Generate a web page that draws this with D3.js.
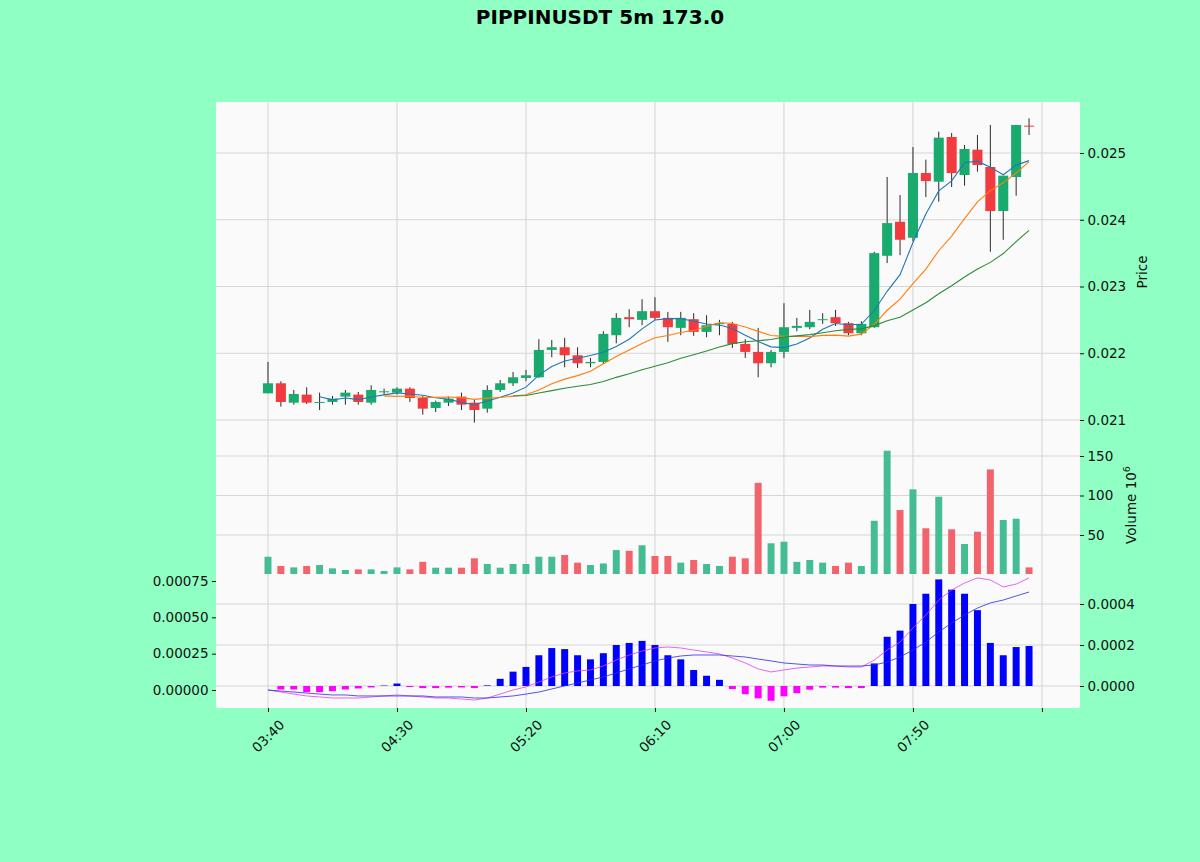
<!DOCTYPE html>
<html><head><meta charset="utf-8">
<script src="https://cdn.jsdelivr.net/npm/d3@7"></script>
<style>
body{margin:0;background:#8fffc3;}
svg{display:block;font-family:"DejaVu Sans",sans-serif;}
</style>
</head><body>
<svg id="chart" width="1200" height="862"></svg>
<script>
// ---------------- DATA ----------------
const times = ["03:40","03:45","03:50","03:55","04:00","04:05","04:10","04:15","04:20","04:25",
"04:30","04:35","04:40","04:45","04:50","04:55","05:00","05:05","05:10","05:15",
"05:20","05:25","05:30","05:35","05:40","05:45","05:50","05:55","06:00","06:05",
"06:10","06:15","06:20","06:25","06:30","06:35","06:40","06:45","06:50","06:55",
"07:00","07:05","07:10","07:15","07:20","07:25","07:30","07:35","07:40","07:45",
"07:50","07:55","08:00","08:05","08:10","08:15","08:20","08:25","08:30","08:35"];

const opens = [0.02140,0.02155,0.02126,0.02138,0.02126,0.02127,0.02135,0.02138,0.02126,0.02142,
0.02141,0.02147,0.02133,0.02118,0.02126,0.02135,0.02126,0.02117,0.02145,0.02155,
0.02163,0.02164,0.02205,0.02209,0.02197,0.02185,0.02187,0.02227,0.02254,0.02250,
0.02263,0.02253,0.02238,0.02251,0.02232,0.02244,0.02244,0.02214,0.02202,0.02185,
0.02202,0.02238,0.02239,0.02250,0.02254,0.02245,0.02230,0.02239,0.02346,0.02397,
0.02373,0.02470,0.02457,0.02524,0.02467,0.02505,0.02479,0.02413,0.02464,0.02541];
const highs = [0.02187,0.02158,0.02145,0.02149,0.02141,0.02136,0.02145,0.02142,0.02152,0.02147,
0.02149,0.02149,0.02136,0.02129,0.02135,0.02141,0.02130,0.02152,0.02160,0.02172,
0.02175,0.02221,0.02220,0.02223,0.02209,0.02193,0.02233,0.02260,0.02266,0.02281,
0.02284,0.02262,0.02262,0.02260,0.02257,0.02250,0.02247,0.02221,0.02238,0.02205,
0.02275,0.02253,0.02265,0.02260,0.02265,0.02247,0.02248,0.02352,0.02464,0.02437,
0.02509,0.02490,0.02532,0.02530,0.02512,0.02527,0.02542,0.02466,0.02542,0.02552];
const lows = [0.02140,0.02120,0.02123,0.02124,0.02115,0.02123,0.02123,0.02123,0.02123,0.02138,
0.02138,0.02127,0.02108,0.02112,0.02121,0.02115,0.02096,0.02111,0.02142,0.02151,
0.02158,0.02163,0.02194,0.02179,0.02178,0.02179,0.02184,0.02215,0.02239,0.02242,
0.02250,0.02217,0.02227,0.02226,0.02224,0.02227,0.02208,0.02193,0.02164,0.02179,
0.02193,0.02233,0.02236,0.02244,0.02241,0.02227,0.02227,0.02238,0.02335,0.02347,
0.02368,0.02434,0.02427,0.02449,0.02451,0.02472,0.02352,0.02370,0.02436,0.02527];
const closes = [0.02155,0.02127,0.02139,0.02126,0.02127,0.02132,0.02141,0.02127,0.02145,0.02143,
0.02147,0.02133,0.02117,0.02127,0.02132,0.02123,0.02115,0.02145,0.02155,0.02164,
0.02167,0.02205,0.02209,0.02197,0.02185,0.02187,0.02229,0.02253,0.02251,0.02263,
0.02253,0.02239,0.02253,0.02232,0.02242,0.02245,0.02214,0.02202,0.02185,0.02202,
0.02239,0.02241,0.02247,0.02251,0.02245,0.02230,0.02244,0.02350,0.02395,0.02370,
0.02470,0.02458,0.02523,0.02470,0.02506,0.02482,0.02413,0.02466,0.02542,0.02540];

// volume in units of 10^6
const volumes = [22.5,10.8,9,10.8,12,7.8,5.7,6.5,6.5,4.4,
9,6.5,16,8.6,8.6,8.6,20.5,13.3,8.6,13.3,
13.3,22.5,22.5,24.7,15,12,14,31,30,37,
23.4,23.4,15,18.4,13.3,10.8,22.5,20.5,116,39.5,
41.5,16,18.4,15,10.8,15,10.8,68,156.7,81.6,
107.8,58.5,98.5,57.2,38.6,54.2,133,69,70.6,9];

// MACD histogram (right axis)
const macdHist = [0,-0.000017,-0.000017,-0.000030,-0.000030,-0.000025,-0.000017,-0.000012,-0.000007,0.000002,
0.000012,-0.000005,-0.000010,-0.000010,-0.000008,-0.000007,-0.000010,0.000003,0.000035,0.000070,
0.000093,0.000150,0.000185,0.000180,0.000150,0.000130,0.000160,0.000200,0.000210,0.000220,
0.000200,0.000150,0.000130,0.000078,0.000050,0.000030,-0.000015,-0.000040,-0.000060,-0.000072,
-0.000050,-0.000035,-0.000018,-0.000008,-0.000008,-0.000010,-0.000010,0.000110,0.000240,0.000270,
0.000400,0.000450,0.000520,0.000470,0.000450,0.000370,0.000210,0.000150,0.000190,0.000195];

// MACD line and signal line (left axis)
const macdLine = [0,-0.000014,-0.000028,-0.000041,-0.000048,-0.000055,-0.000055,-0.000055,-0.000048,-0.000041,
-0.000034,-0.000041,-0.000048,-0.000055,-0.000055,-0.000062,-0.000069,-0.000055,-0.000028,0,
0.000021,0.000055,0.000090,0.000117,0.000131,0.000138,0.000165,0.000206,0.000241,0.000268,
0.000289,0.000296,0.000289,0.000275,0.000262,0.000248,0.000220,0.000186,0.000145,0.000124,
0.000138,0.000151,0.000158,0.000165,0.000165,0.000158,0.000158,0.000206,0.000275,0.000330,
0.000427,0.000516,0.000619,0.000688,0.000736,0.000771,0.000757,0.000709,0.000729,0.000771];
const signalLine = [0,-0.000007,-0.000014,-0.000021,-0.000028,-0.000034,-0.000034,-0.000041,-0.000041,-0.000041,
-0.000041,-0.000041,-0.000041,-0.000048,-0.000048,-0.000048,-0.000055,-0.000055,-0.000048,-0.000041,
-0.000028,-0.000014,0.000007,0.000028,0.000048,0.000069,0.000090,0.000117,0.000145,0.000172,
0.000200,0.000220,0.000234,0.000241,0.000241,0.000241,0.000234,0.000227,0.000213,0.000200,
0.000186,0.000179,0.000172,0.000172,0.000165,0.000165,0.000165,0.000172,0.000193,0.000227,
0.000275,0.000330,0.000399,0.000461,0.000516,0.000564,0.000599,0.000619,0.000647,0.000674];

const maWindows = [5, 10, 20];
const priceTicks = [0.021, 0.022, 0.023, 0.024, 0.025];
const volumeTicks = [50, 100, 150];
const histTicks = [0, 0.0002, 0.0004];
const macdTicks = [0, 0.00025, 0.0005, 0.00075];
const xTickIdx = [0, 10, 20, 30, 40, 50, 60];
const xTickLabels = ["03:40", "04:30", "05:20", "06:10", "07:00", "07:50", ""];
const titleText = "PIPPINUSDT 5m 173.0";

// ---------------- LAYOUT ----------------
const L = 216, R = 1080;
const P = {top: 102, bot: 439};   // price panel
const V = {top: 439, bot: 574};   // volume panel
const M = {top: 574, bot: 708};   // macd panel
const upC = "#19ab6d", dnC = "#f23a3f";
const upV = "#45bd93", dnV = "#f2636b";
const maColors = ["#1f77b4", "#ff7f0e", "#2a8d3a"];
const gridC = "#d6d6d6";
const textC = "#111";
const fs = "13.5px";

const svg = d3.select("#chart");
svg.append("rect").attr("width",1200).attr("height",862).attr("fill","#8fffc3");
svg.append("rect").attr("x",L).attr("y",P.top).attr("width",R-L).attr("height",M.bot-P.top).attr("fill","#fafafa");

const defs = svg.append("defs");
[["cp",P],["cv",V],["cm",M]].forEach(([id,p]) => {
  defs.append("clipPath").attr("id",id).append("rect")
    .attr("x",L).attr("y",p.top).attr("width",R-L).attr("height",p.bot-p.top);
});

const x = d3.scaleLinear().domain([-4.03, 62.95]).range([L, R]);
const yP = d3.scaleLinear().domain([0.021, 0.025]).range([420, 153]);
const yV = d3.scaleLinear().domain([0, 150]).range([574.5, 456]);
const yH = d3.scaleLinear().domain([0, 0.0004]).range([686, 604]);
const yM = d3.scaleLinear().domain([0, 0.00075]).range([690, 581]);

const idx = d3.range(closes.length);
const up = i => closes[i] >= opens[i];

// ---------------- GRID ----------------
const grid = svg.append("g").attr("stroke",gridC).attr("stroke-width",1.1);
xTickIdx.forEach(t => grid.append("line").attr("x1",x(t)).attr("x2",x(t)).attr("y1",P.top).attr("y2",M.bot));
priceTicks.forEach(t => grid.append("line").attr("x1",L).attr("x2",R).attr("y1",yP(t)).attr("y2",yP(t)));
volumeTicks.forEach(t => grid.append("line").attr("x1",L).attr("x2",R).attr("y1",yV(t)).attr("y2",yV(t)));
histTicks.forEach(t => grid.append("line").attr("x1",L).attr("x2",R).attr("y1",yH(t)).attr("y2",yH(t)));

// ---------------- CANDLES ----------------
const cw = x(0.39) - x(0);
const gP = svg.append("g").attr("clip-path","url(#cp)");
gP.selectAll("line.wick").data(idx).join("line")
  .attr("x1",i=>x(i)).attr("x2",i=>x(i))
  .attr("y1",i=>yP(highs[i])).attr("y2",i=>yP(lows[i]))
  .attr("stroke","#2b2b2b").attr("stroke-width",1);
gP.selectAll("rect.body").data(idx).join("rect")
  .attr("x",i=>x(i)-cw).attr("width",cw*2)
  .attr("y",i=>yP(Math.max(opens[i],closes[i])))
  .attr("height",i=>Math.max(1, Math.abs(yP(opens[i])-yP(closes[i]))))
  .attr("fill",i=>up(i)?upC:dnC);

// moving averages (computed from closes like mplfinance's mav)
maWindows.forEach((w,k) => {
  const ma = idx.map(i => i < w-1 ? null : d3.mean(closes.slice(i-w+1, i+1)));
  gP.append("path").datum(idx.filter(i => ma[i] !== null))
    .attr("d", d3.line().x(i=>x(i)).y(i=>yP(ma[i])))
    .attr("fill","none").attr("stroke",maColors[k]).attr("stroke-width",1.1);
});

// ---------------- VOLUME ----------------
const bw = x(0.27) - x(0);
const gV = svg.append("g").attr("clip-path","url(#cv)");
gV.selectAll("rect").data(idx).join("rect")
  .attr("x",i=>x(i)-bw).attr("width",bw*2)
  .attr("y",i=>yV(volumes[i])).attr("height",i=>yV(0)-yV(volumes[i]))
  .attr("fill",i=>up(i)?upV:dnV);

// ---------------- MACD ----------------
const gM = svg.append("g").attr("clip-path","url(#cm)");
gM.selectAll("rect").data(idx).join("rect")
  .attr("x",i=>x(i)-bw).attr("width",bw*2)
  .attr("y",i=>Math.min(yH(macdHist[i]),yH(0)))
  .attr("height",i=>Math.abs(yH(macdHist[i])-yH(0)))
  .attr("fill",i=>macdHist[i]>=0?"#0000ff":"#ff00ff");
gM.append("path").datum(idx)
  .attr("d", d3.line().x(i=>x(i)).y(i=>yM(macdLine[i])))
  .attr("fill","none").attr("stroke","#e040e8").attr("stroke-width",0.8);
gM.append("path").datum(idx)
  .attr("d", d3.line().x(i=>x(i)).y(i=>yM(signalLine[i])))
  .attr("fill","none").attr("stroke","#2a2ae6").attr("stroke-width",0.8);

// ---------------- AXES ----------------
function styleAxis(g){
  g.select(".domain").remove();
  g.selectAll(".tick line").attr("stroke",textC);
  g.selectAll(".tick text").attr("fill",textC).style("font-size",fs).style("font-family","DejaVu Sans");
}
svg.append("g").attr("transform",`translate(${R},0)`)
  .call(d3.axisRight(yP).tickValues(priceTicks).tickSize(4).tickPadding(3.5).tickFormat(d3.format(".3f")))
  .call(styleAxis);
svg.append("g").attr("transform",`translate(${R},0)`)
  .call(d3.axisRight(yV).tickValues(volumeTicks).tickSize(4).tickPadding(3.5).tickFormat(d3.format("d")))
  .call(styleAxis);
svg.append("g").attr("transform",`translate(${R},0)`)
  .call(d3.axisRight(yH).tickValues(histTicks).tickSize(4).tickPadding(3.5).tickFormat(d3.format(".4f")))
  .call(styleAxis);
svg.append("g").attr("transform",`translate(${L},0)`)
  .call(d3.axisLeft(yM).tickValues(macdTicks).tickSize(4).tickPadding(3.5).tickFormat(d3.format(".5f")))
  .call(styleAxis);

svg.append("g").attr("transform",`translate(0,${M.bot})`)
  .call(d3.axisBottom(x).tickValues(xTickIdx).tickSize(4).tickFormat(""))
  .call(styleAxis);
xTickIdx.forEach((t,k) => {
  if (!xTickLabels[k]) return;
  const cx = x(t), cy = 736;
  svg.append("text").attr("x",cx).attr("y",cy)
    .attr("text-anchor","middle").attr("dominant-baseline","central")
    .attr("transform",`rotate(-45,${cx},${cy})`)
    .attr("fill",textC).style("font-size",fs).text(xTickLabels[k]);
});

// labels
svg.append("text").attr("x",1142).attr("y",272).attr("text-anchor","middle")
  .attr("dominant-baseline","central").attr("transform","rotate(-90,1142,272)")
  .attr("fill",textC).style("font-size",fs).text("Price");
const vl = svg.append("text").attr("x",1131).attr("y",505).attr("text-anchor","middle")
  .attr("dominant-baseline","central").attr("transform","rotate(-90,1131,505)")
  .attr("fill",textC).style("font-size",fs);
vl.append("tspan").text("Volume  10");
vl.append("tspan").attr("dy",-5).style("font-size","9.5px").text("6");

svg.append("text").attr("x",600).attr("y",17).attr("text-anchor","middle")
  .attr("dominant-baseline","central").attr("fill","#000")
  .style("font-size","20px").style("font-weight","bold").text(titleText);
</script>
</body></html>
